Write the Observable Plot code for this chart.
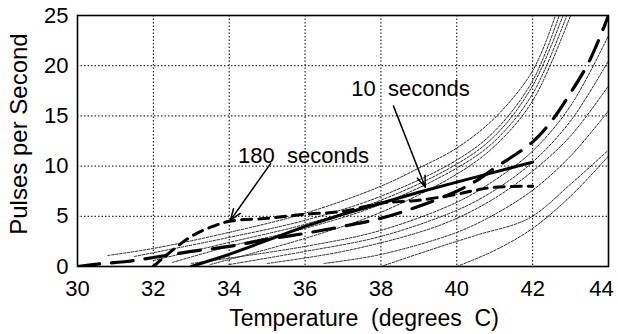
<!DOCTYPE html>
<html><head><meta charset="utf-8">
<script src="https://cdn.jsdelivr.net/npm/d3@7"></script>
<script src="https://cdn.jsdelivr.net/npm/@observablehq/plot@0.6"></script>
<style>body{margin:0;background:#fff}</style>
</head><body><div id="chart"></div>
<script>
const xTicks = [30, 32, 34, 36, 38, 40, 42, 44];
const yTicks = [0, 5, 10, 15, 20, 25];
const xTitle = "Temperature\u00a0 (degrees\u00a0 C)";
const yTitle = "Pulses per Second";

// thick series [temperature, pulses/s]
const sec10 = [[33,0],[34,1.2],[35,2.6],[36,4.0],[37,5.2],[38,6.3],[39,7.4],[40,8.4],[41,9.4],[42,10.4]];
const sec180 = [[32,0],[32.5,1.6],[33,3.0],[33.5,3.9],[34,4.5],[35,4.8],[36,5.2],[37,5.5],[38,6.3],[39,6.6],[40,7.2],[40.5,7.6],[41,7.9],[42,8.0]];
const longDash = [[30,0],[30.7,0.3],[31.3,0.5],[32,0.9],[33,1.5],[34,2.0],[35,2.7],[36,3.3],[37,4.0],[38,4.8],[39,6.0],[40,7.5],[40.5,8.5],[41,9.8],[42,12.4],[42.5,14.5],[43,17.3],[43.5,20.5],[44,25]];

// thin curves
const t1 = [[30.8,1.1],[32,1.8],[34,3.4],[36,5.3],[38,8.0],[39,9.8],[40,11.8],[41,14.8],[42,19.5],[42.6,25]];
const t2 = [[31.5,1.0],[34,2.9],[36,4.6],[38,7.0],[40,10.6],[41,13.5],[42,18.5],[42.7,25]];
const t3 = [[32,0.6],[34,2.4],[36,4.2],[38,6.6],[40,10.2],[41,13.0],[42,18.0],[42.8,25]];
const t4 = [[32.5,0.4],[34,2.0],[36,3.8],[38,6.2],[40,9.8],[41,12.5],[42,17.2],[42.9,25]];
const t5 = [[33.5,0.2],[36,2.8],[38,5.4],[40,9.2],[41,12.0],[42,16.5],[43,25]];
const t6 = [[33,0.3],[36,2.0],[38,3.6],[40,6.4],[41,8.6],[42,11.5],[43,16.0],[44,23.0]];
const t7 = [[34,0.2],[36,1.5],[38,3.0],[40,5.6],[41,7.6],[42,10.4],[43,14.5],[44,20.5]];
const t8 = [[35,0.3],[37,1.5],[39,3.4],[40,4.8],[41,6.8],[42,9.5],[43,13.0],[44,18.0]];
const t9 = [[36.5,0.3],[38,1.2],[40,3.4],[41,5.2],[42,7.6],[43,11.0],[44,15.5]];
const t10 = [[38,0],[39.5,1.9],[40.5,3.1],[41.9,4.8],[43,8.2],[44,11.6]];
const t11 = [[40,0],[41,1.6],[42,3.8],[43,7.0],[44,11.0]];

const labels = [
  {text: "180\u00a0 seconds", x: 35.96, y: 11.05},
  {text: "10\u00a0 seconds", x: 38.78, y: 17.7}
];
const arrows = [
  {x1: 35.09, y1: 10.25, x2: 34.03, y2: 4.6},
  {x1: 38.33, y1: 16.0, x2: 39.17, y2: 7.9}
];

const toRows = (arr, id) => arr.map(([x, y]) => ({x, y, id}));
const thin = [t1,t2,t3,t4,t5,t6,t7,t8,t9,t10,t11].flatMap((a, i) => toRows(a, "t" + i));

const chart = Plot.plot({
  width: 618, height: 334,
  marginLeft: 77, marginRight: 10, marginTop: 15, marginBottom: 68,
  style: {fontFamily: "'Liberation Sans', Arial, sans-serif", fontSize: "22px", color: "#000", background: "#fff"},
  x: {domain: [30, 44], label: null},
  y: {domain: [0, 25], label: null},
  marks: [
    Plot.gridX(xTicks.slice(1, -1), {stroke: "#000", strokeOpacity: 1, strokeWidth: 1, strokeDasharray: "1.5,2"}),
    Plot.gridY(yTicks.slice(1, -1), {stroke: "#000", strokeOpacity: 1, strokeWidth: 1, strokeDasharray: "1.5,2"}),
    Plot.axisX(xTicks.slice(0, -1), {tickSize: 0, tickPadding: 14, label: null, fontSize: 22}),
    Plot.axisX(xTicks.slice(-1), {tickSize: 0, tickPadding: 14, label: null, fontSize: 22, dx: -7}),
    Plot.axisY(yTicks, {tickSize: 0, tickPadding: 9, label: null, fontSize: 22}),
    Plot.text([xTitle], {frameAnchor: "bottom", lineAnchor: "middle", textAnchor: "middle", dy: 52, dx: 21, fontSize: 23, text: d => d}),
    Plot.text([yTitle], {frameAnchor: "left", rotate: -90, textAnchor: "middle", lineAnchor: "middle", dx: -58, dy: -7, fontSize: 24, text: d => d}),
    Plot.line(thin, {x: "x", y: "y", z: "id", curve: "catmull-rom", stroke: "#111", strokeWidth: 0.9, strokeDasharray: "2.5,1.5", clip: true}),
    Plot.line(toRows(longDash, "a"), {x: "x", y: "y", curve: "catmull-rom", stroke: "#000", strokeWidth: 3.2, strokeDasharray: "22,12", clip: true}),
    Plot.line(toRows(sec180, "b"), {x: "x", y: "y", curve: "catmull-rom", stroke: "#000", strokeWidth: 3, strokeDasharray: "10,7", clip: true}),
    Plot.line(toRows(sec10, "c"), {x: "x", y: "y", stroke: "#000", strokeWidth: 3, clip: true}),
    Plot.arrow(arrows, {x1: "x1", y1: "y1", x2: "x2", y2: "y2", stroke: "#000", strokeWidth: 1.5, headLength: 12, headAngle: 40}),
    Plot.text(labels, {x: "x", y: "y", text: "text", fontSize: 22, fill: "#000"}),
    Plot.frame({stroke: "#000", strokeWidth: 1.6})
  ]
});
document.getElementById("chart").appendChild(chart);
</script>
</body></html>
